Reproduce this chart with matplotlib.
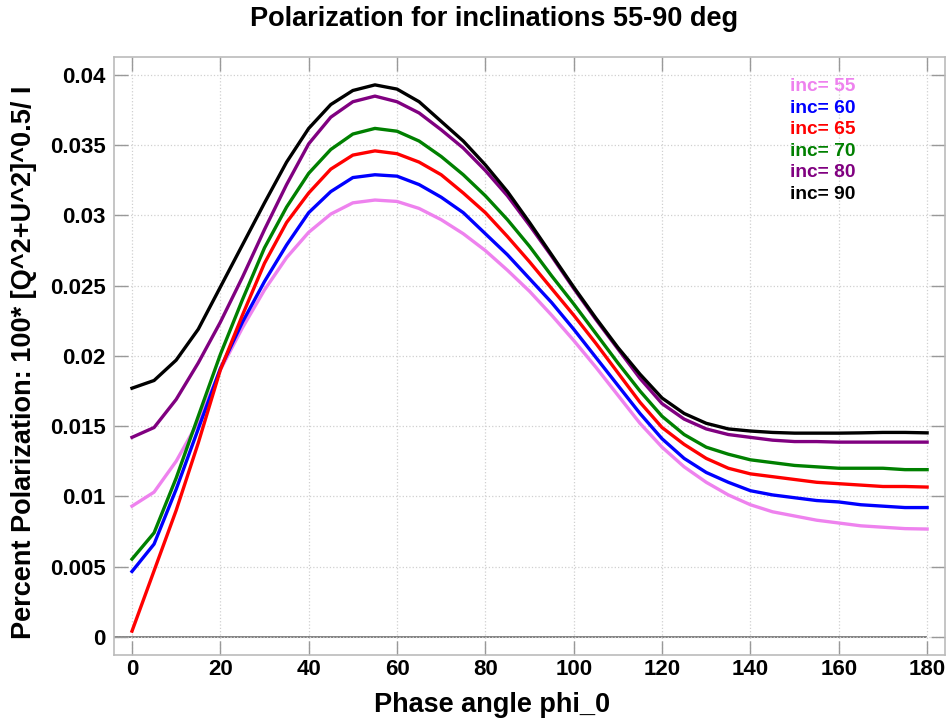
import matplotlib
matplotlib.use("Agg")
import matplotlib.pyplot as plt
from matplotlib.ticker import FuncFormatter

plt.rcParams['font.family'] = ['Liberation Sans', 'DejaVu Sans']
plt.rcParams['font.weight'] = 'bold'

phi = list(range(0, 181, 5))

inc55 = [0.0093, 0.0103, 0.0125, 0.0153, 0.0190, 0.0220, 0.0247, 0.0270, 0.0288, 0.0301,
         0.0309, 0.0311, 0.0310, 0.0305, 0.0297, 0.0287, 0.0275, 0.0261, 0.0246, 0.0229,
         0.0211, 0.0192, 0.0172, 0.0152, 0.0135, 0.0121, 0.0110, 0.0101, 0.0094, 0.0089,
         0.0086, 0.0083, 0.0081, 0.0079, 0.0078, 0.0077, 0.00767]
inc60 = [0.00465, 0.0066, 0.0105, 0.0148, 0.0191, 0.0224, 0.0253, 0.0279, 0.0302, 0.0317,
         0.0327, 0.0329, 0.0328, 0.0322, 0.0313, 0.0302, 0.0287, 0.0272, 0.0255, 0.0238,
         0.0219, 0.0199, 0.0179, 0.0159, 0.0141, 0.0127, 0.0117, 0.0110, 0.0104, 0.0101,
         0.0099, 0.0097, 0.0096, 0.0094, 0.0093, 0.0092, 0.0092]
inc65 = [0.0004, 0.0047, 0.0090, 0.0138, 0.0190, 0.0229, 0.0266, 0.0295, 0.0316, 0.0333,
         0.0343, 0.0346, 0.0344, 0.0338, 0.0329, 0.0316, 0.0302, 0.0285, 0.0267, 0.0248,
         0.0229, 0.0209, 0.0188, 0.0167, 0.0149, 0.0137, 0.0127, 0.0120, 0.0116, 0.0114,
         0.0112, 0.0110, 0.0109, 0.0108, 0.0107, 0.0107, 0.01066]
inc70 = [0.00553, 0.0074, 0.0113, 0.0157, 0.0201, 0.0240, 0.0277, 0.0306, 0.0330, 0.0347,
         0.0358, 0.0362, 0.0360, 0.0353, 0.0342, 0.0329, 0.0314, 0.0297, 0.0278, 0.0257,
         0.0237, 0.0216, 0.0195, 0.0175, 0.0157, 0.0144, 0.0135, 0.0130, 0.0126, 0.0124,
         0.0122, 0.0121, 0.0120, 0.0120, 0.0120, 0.0119, 0.0119]
inc80 = [0.0142, 0.0149, 0.0169, 0.0195, 0.0224, 0.0256, 0.0290, 0.0322, 0.0351, 0.0370,
         0.0381, 0.0385, 0.0381, 0.0373, 0.0361, 0.0348, 0.0332, 0.0314, 0.0293, 0.0271,
         0.0248, 0.0226, 0.0205, 0.0184, 0.0166, 0.0155, 0.0148, 0.0144, 0.0142, 0.0140,
         0.0139, 0.0139, 0.01386, 0.01386, 0.01386, 0.01386, 0.01386]
inc90 = [0.0177, 0.01825, 0.0197, 0.0219, 0.0249, 0.0279, 0.0309, 0.0338, 0.0362, 0.0379,
         0.0389, 0.0393, 0.0390, 0.0381, 0.0367, 0.0353, 0.0336, 0.0317, 0.0295, 0.0272,
         0.0249, 0.0227, 0.0206, 0.0187, 0.0170, 0.0159, 0.0152, 0.0148, 0.01465, 0.01455,
         0.0145, 0.0145, 0.0145, 0.01452, 0.01455, 0.01455, 0.01452]

series = [inc55, inc60, inc65, inc70, inc80, inc90]
labels = ["inc= 55", "inc= 60", "inc= 65", "inc= 70", "inc= 80", "inc= 90"]
colors = ["violet", "blue", "red", "green", "purple", "black"]

fig = plt.figure(figsize=(9.49, 7.19), dpi=100)
ax = fig.add_axes([0.120, 0.089, 0.876, 0.832])

ax.grid(True, ls=":", color="#d0d0d0", lw=0.9)
ax.hlines(0, -4.1, 180, color="#777777", lw=1.3, zorder=1)

for ys, col in zip(series, colors):
    ax.plot(phi, ys, color=col, lw=2.4, zorder=3)

# colored text key, top right
for i, (lab, col) in enumerate(zip(labels, colors)):
    ax.text(0.813, 0.950 - i * 0.036, lab, color=col, transform=ax.transAxes,
            fontsize=13.8, fontweight="bold", va="center", ha="left")

ax.set_xlim(-4.1, 184.1)
ax.set_ylim(-0.0013, 0.0413)
ax.set_xticks(range(0, 181, 20))
ax.set_yticks([i * 0.005 for i in range(9)])
ax.yaxis.set_major_formatter(FuncFormatter(lambda v, p: "%g" % round(v, 4)))
ax.tick_params(direction="in", length=10, width=1, color="#999999",
               top=True, right=True, labelsize=16)
ax.tick_params(axis="x", pad=3)
ax.tick_params(axis="y", pad=6)
for lbl in ax.get_xticklabels() + ax.get_yticklabels():
    lbl.set_fontweight("bold")
for s in ax.spines.values():
    s.set_color("#bbbbbb")
    s.set_linewidth(1.2)

ax.set_xlabel("Phase angle phi_0", fontsize=19.5, fontweight="bold", labelpad=6)
ax.xaxis.set_label_coords(0.455, -0.062)
ax.set_ylabel("Percent Polarization: 100* [Q^2+U^2]^0.5/ I", fontsize=19.5,
              fontweight="bold")
ax.yaxis.set_label_coords(-0.092, 0.49)
ax.set_title("Polarization for inclinations 55-90 deg", fontsize=19.5,
             fontweight="bold", pad=22, x=0.457)

fig.savefig("out.png", dpi=100)
